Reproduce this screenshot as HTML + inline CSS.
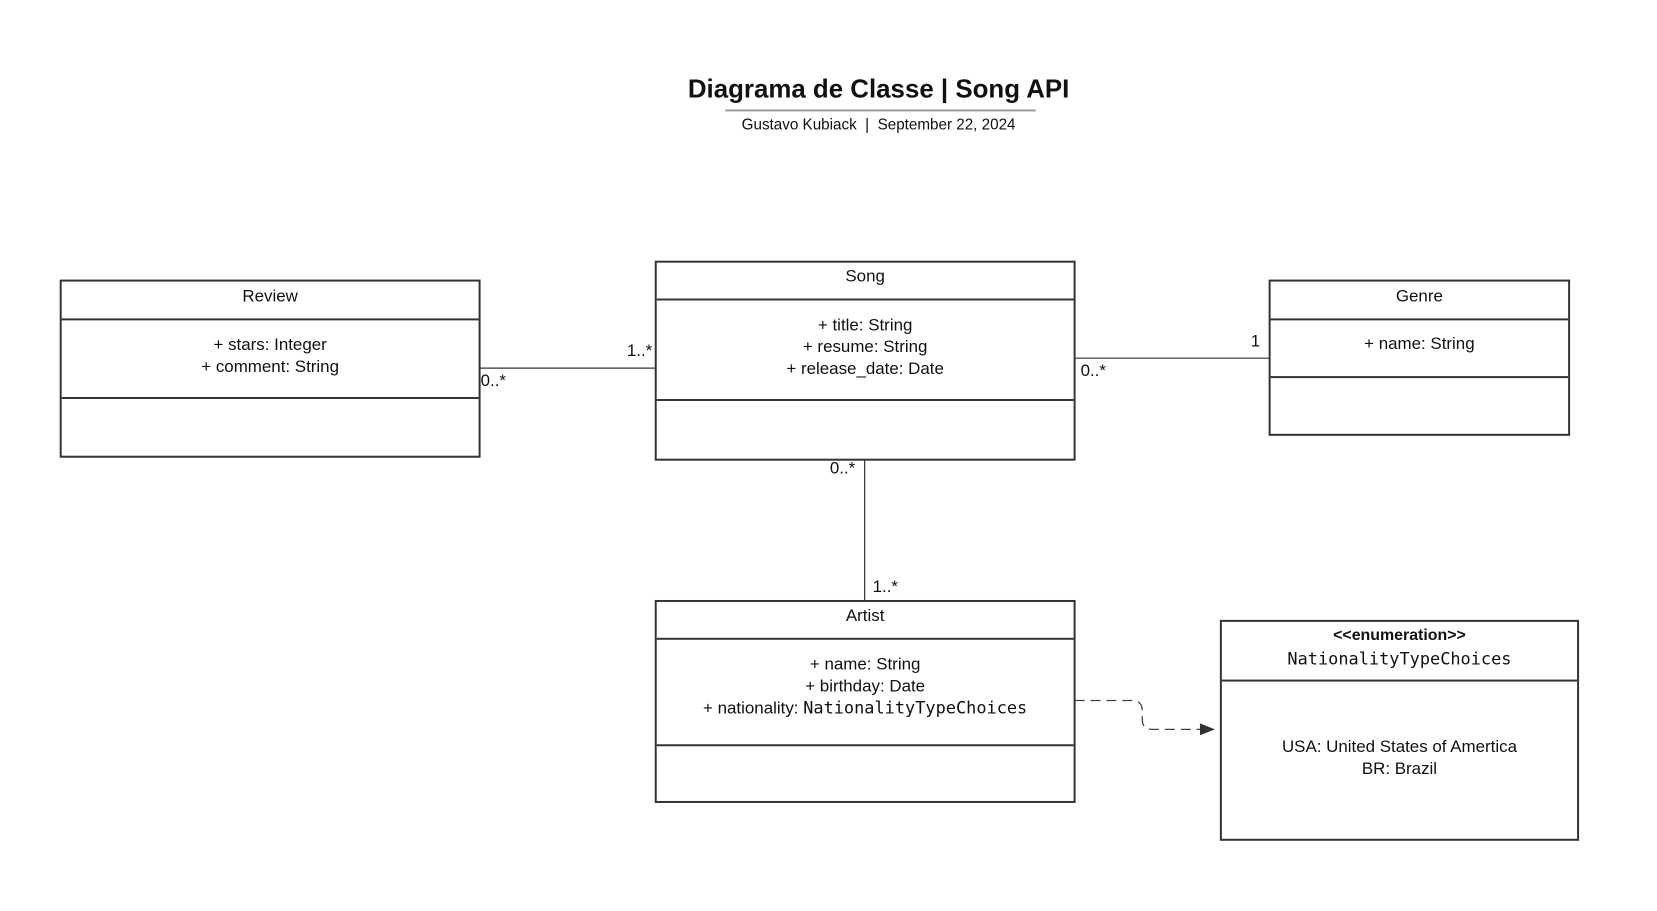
<!DOCTYPE html>
<html><head><meta charset="utf-8"><style>
html,body{margin:0;padding:0;background:#fff;}
body{width:1657px;height:911px;position:relative;overflow:hidden;font-family:"Liberation Sans",sans-serif;color:#111;}
#w{position:absolute;left:0;top:0;width:1657px;height:911px;transform:scale(0.995);transform-origin:0 0;}
.b{position:absolute;border:2px solid #333;box-sizing:border-box;}
.d{position:absolute;left:0;right:0;border-top:2px solid #333;}
.t{position:absolute;white-space:nowrap;font-size:17px;text-align:center;}
.mono{font-family:"DejaVu Sans Mono","Liberation Mono",monospace;}
</style></head><body>
<div id="w">
<div class="t" style="left:0;width:1766px;top:74px;font-size:26px;font-weight:bold;">Diagrama de Classe | Song API</div>
<div style="position:absolute;left:729px;top:110px;width:312px;border-top:2px solid #9a9aa8;"></div>
<div class="t" style="left:0;width:1766px;top:117px;font-size:15.3px;">Gustavo Kubiack &nbsp;|&nbsp; September 22, 2024</div>

<svg width="1657" height="911" style="position:absolute;left:0;top:0">
<line x1="482" y1="370" x2="658" y2="370" stroke="#333" stroke-width="1.2"/>
<line x1="1080" y1="360" x2="1275" y2="360" stroke="#333" stroke-width="1.2"/>
<line x1="869" y1="462" x2="869" y2="603" stroke="#333" stroke-width="1.2"/>
<path d="M1080 704 H1138 Q1148 704 1148 714 V723 Q1148 733 1158 733 H1208" fill="none" stroke="#444" stroke-width="1.3" stroke-dasharray="10,6"/>
<polygon points="1206,727 1221,733 1206,739" fill="#333"/>
</svg>

<div class="b" style="left:60px;top:281px;width:423px;height:179px;">
<div class="d" style="top:37px"></div><div class="d" style="top:116px"></div></div>
<div class="t" style="left:60px;width:423px;top:288px;">Review</div>
<div class="t" style="left:60px;width:423px;top:336px;line-height:22px;">+ stars: Integer<br>+ comment: String</div>

<div class="b" style="left:658px;top:262px;width:423px;height:201px;">
<div class="d" style="top:36px"></div><div class="d" style="top:137px"></div></div>
<div class="t" style="left:658px;width:423px;top:268px;">Song</div>
<div class="t" style="left:658px;width:423px;top:316px;line-height:22px;">+ title: String<br>+ resume: String<br>+ release_date: Date</div>

<div class="b" style="left:1275px;top:281px;width:303px;height:157px;">
<div class="d" style="top:37px"></div><div class="d" style="top:95px"></div></div>
<div class="t" style="left:1275px;width:303px;top:288px;">Genre</div>
<div class="t" style="left:1275px;width:303px;top:336px;">+ name: String</div>

<div class="b" style="left:658px;top:603px;width:423px;height:204px;">
<div class="d" style="top:36px"></div><div class="d" style="top:143px"></div></div>
<div class="t" style="left:658px;width:423px;top:609px;">Artist</div>
<div class="t" style="left:658px;width:423px;top:657px;line-height:22px;">+ name: String<br>+ birthday: Date<br>+ nationality: <span class="mono">NationalityTypeChoices</span></div>

<div class="b" style="left:1226px;top:623px;width:361px;height:222px;">
<div class="d" style="top:58px"></div></div>
<div class="t" style="left:1226px;width:361px;top:630px;font-weight:bold;font-size:16px;">&lt;&lt;enumeration&gt;&gt;</div>
<div class="t mono" style="left:1226px;width:361px;top:653px;font-size:17px;">NationalityTypeChoices</div>
<div class="t" style="left:1226px;width:361px;top:740px;line-height:22px;">USA: United States of Amertica<br>BR: Brazil</div>

<div class="t" style="left:483px;top:373px;">0..*</div>
<div class="t" style="left:630px;top:343px;">1..*</div>
<div class="t" style="left:1086px;top:363px;">0..*</div>
<div class="t" style="left:1257px;top:333px;">1</div>
<div class="t" style="left:834px;top:461px;">0..*</div>
<div class="t" style="left:877px;top:580px;">1..*</div>
</div>
</body></html>
